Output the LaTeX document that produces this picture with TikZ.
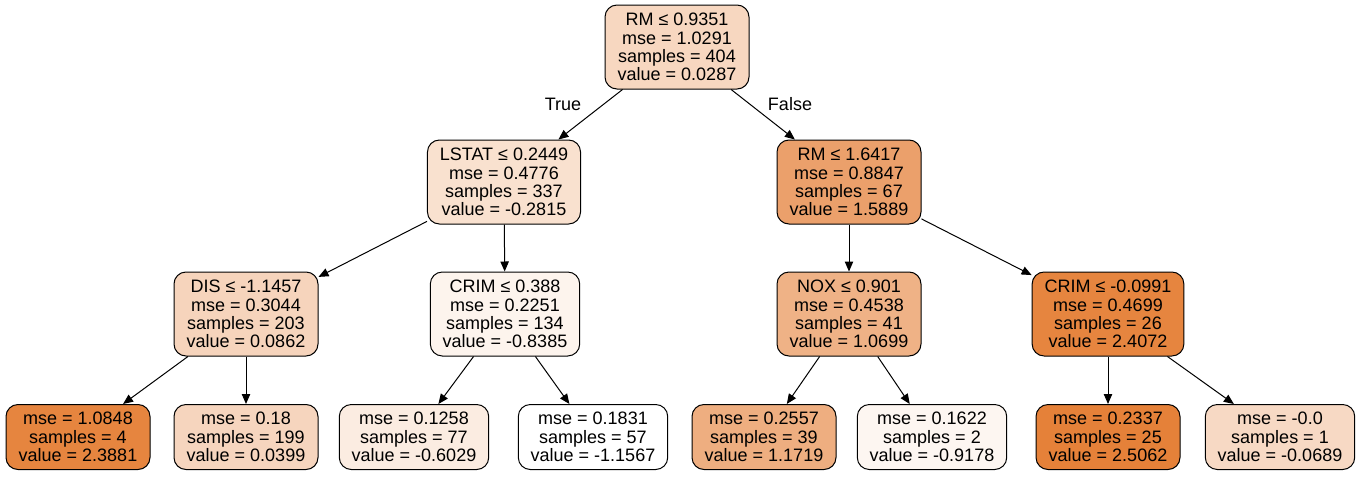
\documentclass[tikz,border=0pt]{standalone}
\usepackage{fontspec}
\setmainfont{Liberation Sans}
\usetikzlibrary{arrows.meta}
\definecolor{treeorange}{HTML}{E58139}

\begin{document}
\begin{tikzpicture}[x=0.5pt, y=-0.5pt,
every node/.style = {font=\fontsize{9}{9.15}\selectfont},
split/.style = {draw, line width=0.5pt, rounded corners=6pt, align=center,
    minimum width=72pt, minimum height=42pt, inner xsep=6.2pt},
leaf/.style = {split, minimum height=32.5pt},
edge/.style = {line width=0.5pt, -{Triangle[length=5pt,width=4.2pt]}}]
\useasboundingbox[fill=white] (0,0) rectangle (1361,477);
% split nodes
\node[split, fill=treeorange!32!white] (root) at (677,47)
    {RM ≤ 0.9351\\mse = 1.0291\\samples = 404\\value = 0.0287};
\node[split, fill=treeorange!24!white] (lstat) at (504,182)
    {LSTAT ≤ 0.2449\\mse = 0.4776\\samples = 337\\value = -0.2815};
\node[split, fill=treeorange!75!white] (rm) at (849,182)
    {RM ≤ 1.6417\\mse = 0.8847\\samples = 67\\value = 1.5889};
\node[split, fill=treeorange!34!white] (dis) at (246,314)
    {DIS ≤ -1.1457\\mse = 0.3044\\samples = 203\\value = 0.0862};
\node[split, fill=treeorange!9!white] (crimA) at (505,314)
    {CRIM ≤ 0.388\\mse = 0.2251\\samples = 134\\value = -0.8385};
\node[split, fill=treeorange!61!white] (nox) at (849,314)
    {NOX ≤ 0.901\\mse = 0.4538\\samples = 41\\value = 1.0699};
\node[split, fill=treeorange!97!white] (crimB) at (1108,314)
    {CRIM ≤ -0.0991\\mse = 0.4699\\samples = 26\\value = 2.4072};
% leaves
\node[leaf, fill=treeorange!97!white] (leafA) at (78,437)
    {mse = 1.0848\\samples = 4\\value = 2.3881};
\node[leaf, fill=treeorange!33!white] (leafB) at (246,437)
    {mse = 0.18\\samples = 199\\value = 0.0399};
\node[leaf, fill=treeorange!15!white] (leafC) at (414,437)
    {mse = 0.1258\\samples = 77\\value = -0.6029};
\node[leaf, fill=white] (leafD) at (593,437)
    {mse = 0.1831\\samples = 57\\value = -1.1567};
\node[leaf, fill=treeorange!64!white] (leafE) at (764,437)
    {mse = 0.2557\\samples = 39\\value = 1.1719};
\node[leaf, fill=treeorange!7!white] (leafF) at (932,437)
    {mse = 0.1622\\samples = 2\\value = -0.9178};
\node[leaf, fill=treeorange!100!white] (leafG) at (1108,437)
    {mse = 0.2337\\samples = 25\\value = 2.5062};
\node[leaf, fill=treeorange!30!white] (leafH) at (1280,437)
    {mse = -0.0\\samples = 1\\value = -0.0689};
% edges
\draw[edge] (root) -- (lstat);
\draw[edge] (root) -- (rm);
\node (true) at (563,104) {True};
\node (false) at (790,104) {False};
\draw[edge] (lstat) -- (dis);
\draw[edge] (lstat) -- (crimA);
\draw[edge] (rm) -- (nox);
\draw[edge] (rm) -- (crimB);
\draw[edge] (dis) -- (leafA);
\draw[edge] (dis) -- (leafB);
\draw[edge] (crimA) -- (leafC);
\draw[edge] (crimA) -- (leafD);
\draw[edge] (nox) -- (leafE);
\draw[edge] (nox) -- (leafF);
\draw[edge] (crimB) -- (leafG);
\draw[edge] (crimB) -- (leafH);
\end{tikzpicture}
\end{document}
